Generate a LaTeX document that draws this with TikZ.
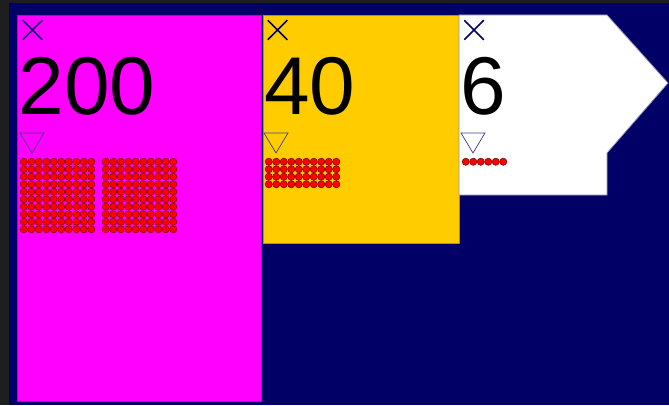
\documentclass[tikz,border=0pt]{standalone}
\usepackage{fontspec}
\setmainfont{Liberation Sans}
\usetikzlibrary{shapes.misc}
\definecolor{pagenavy}{RGB}{0,0,102}
\definecolor{hundredsbg}{RGB}{255,0,255}
\definecolor{tensbg}{RGB}{255,204,0}
\definecolor{outerframe}{RGB}{30,30,30}

\tikzset{
  numeral/.style={anchor=base west,inner sep=0pt,font=\fontsize{82}{82}\selectfont},
  closer/.style={cross out,draw=pagenavy,line width=1.5pt,minimum size=18pt,inner sep=0pt},
  dropmark/.style={draw=pagenavy!75,line width=.7pt,line join=miter},
  bead/.style={fill=red,draw=red!45!black,line width=.5pt},
}

\begin{document}
\begin{tikzpicture}[x=1pt,y=1pt]
\useasboundingbox (0,0) rectangle (669,405);
\fill[outerframe] (0,0) rectangle (669,405);
\fill[pagenavy] (9,0) rectangle (669,402);
% place value cards
\filldraw[fill=hundredsbg,draw=hundredsbg!70!pagenavy,line width=.6pt] (17,4) rectangle (261,390);
\filldraw[fill=tensbg,draw=tensbg!70!pagenavy,line width=.6pt] (263,162) rectangle (459,390);
\filldraw[fill=white,draw=pagenavy!45,line width=.8pt] (459,390) -- (607,390) -- (668,322) -- (607,252) -- (607,210) -- (459,210) -- cycle;
% close marks
\node[closer] (close200) at (32.5,375) {};
\node[closer] (close40) at (277.5,375) {};
\node[closer] (close6) at (474,375) {};
% digits
\node[numeral] (num200) at (18.5,290) {200};
\node[numeral] (num40) at (264,290) {40};
\node[numeral] (num6) at (460.5,290) {6};
% drop down marks
\draw[dropmark] (20,272) -- (44,272) -- (32,252) -- cycle;
\draw[dropmark] (264,272) -- (288,272) -- (276,252) -- cycle;
\draw[dropmark] (461,272) -- (485,272) -- (473,252) -- cycle;
% beads
\foreach \i in {0,...,9}
  \foreach \j in {0,...,9} {
    \filldraw[bead] (23.75+7.5*\i,243.25-7.5*\j) circle (3.6);
    \filldraw[bead] (105.75+7.5*\i,243.25-7.5*\j) circle (3.6);
  }
\foreach \i in {0,...,9}
  \foreach \j in {0,...,3}
    \filldraw[bead] (268.75+7.5*\i,243.25-7.5*\j) circle (3.6);
\foreach \i in {0,...,5}
  \filldraw[bead] (465.75+7.5*\i,243.25) circle (3.6);
\end{tikzpicture}
\end{document}
